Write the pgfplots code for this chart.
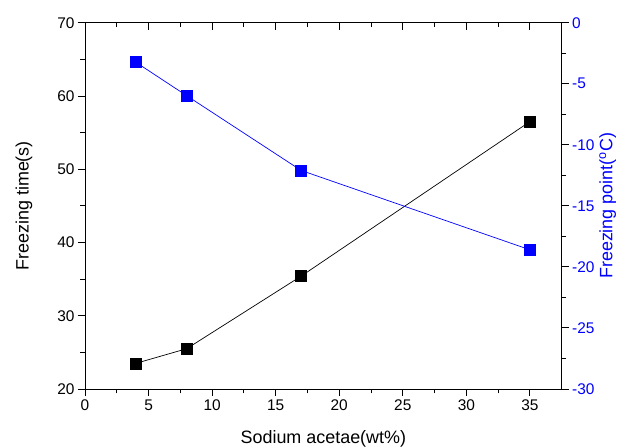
\documentclass[border=0pt]{standalone}
\usepackage{pgfplots}
\pgfplotsset{compat=1.18}
\usepackage{fontspec}
\setmainfont{Liberation Sans}

\pgfplotsset{
  base/.style={
    scale only axis, width=476.7bp, height=366.3bp,
    xmin=0, xmax=37.5,
    axis line style={-, line width=0.9pt},
    major tick length=7bp, minor tick length=4.5bp,
    every tick/.style={line width=0.9pt, black},
    tick label style={font=\fontsize{15.5}{18}\selectfont},
    label style={font=\fontsize{18}{21}\selectfont},
    /pgf/number format/assume math mode=true,
  },
}

\begin{document}
\begin{tikzpicture}
\begin{axis}[base, name=main,
    ymin=20, ymax=70,
    axis x line*=bottom, axis y line*=left,
    tick align=outside,
    xtick={0,5,...,35}, minor x tick num=1,
    ytick={20,30,...,70}, minor y tick num=1,
    xlabel={Sodium acetae(wt\%)},
    ylabel={Freezing time(s)},
    xlabel style={yshift=-13bp},
    ylabel style={yshift=18bp},
]
\addplot[black, line width=0.7pt, mark=square*, mark size=5.5bp, mark options={solid, fill=black}]
  coordinates {(4,23.5) (8,25.5) (17,35.4) (35,56.5)};
\end{axis}

\begin{axis}[base,
    ymin=-30, ymax=0,
    axis x line=none, axis y line*=right,
    tick align=outside,
    ytick={-30,-25,...,0}, minor y tick num=1,
    yticklabels={-30,-25,-20,-15,-10,-5,0},
    yticklabel style={blue},
    ylabel={Freezing point(\textsuperscript{o}C)},
    ylabel style={blue, yshift=2bp},
]
\addplot[blue, line width=0.7pt, mark=square*, mark size=5.5bp, mark options={solid, fill=blue}]
  coordinates {(4,-3.24) (8,-5.98) (17,-12.1) (35,-18.6)};
\end{axis}

\begin{axis}[base,
    ymin=0, ymax=1,
    axis x line*=top, axis y line=none,
    tick align=inside,
    xtick={0,5,...,35}, minor x tick num=1,
    xticklabels={},
]
\end{axis}

\pgfresetboundingbox
\path[use as bounding box] ([shift={(-85bp,-59bp)}]main.south west)
  rectangle ([shift={(65.3bp,22.7bp)}]main.north east);
\end{tikzpicture}
\end{document}
